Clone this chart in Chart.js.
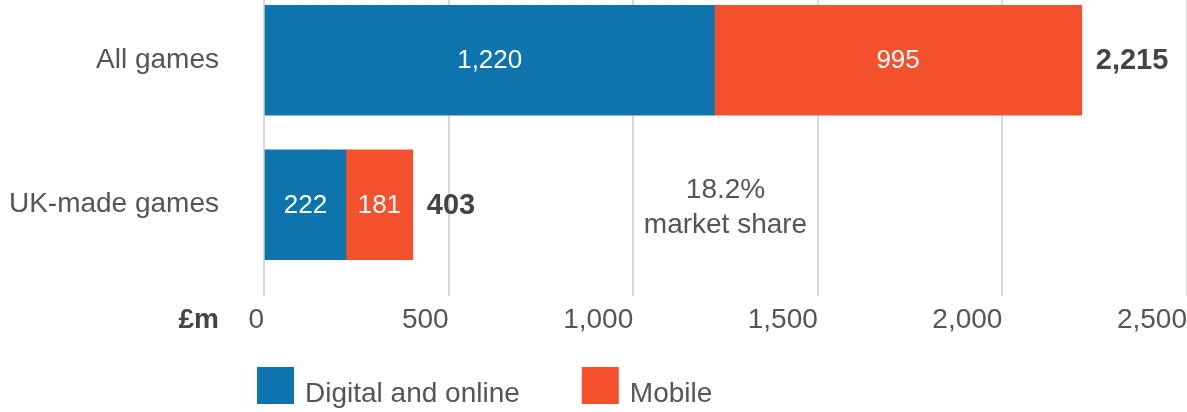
<!DOCTYPE html>
<html><head><meta charset="utf-8">
<script src="https://cdn.jsdelivr.net/npm/chart.js@4.4.1/dist/chart.umd.min.js"></script>
<style>
html,body{margin:0;padding:0;background:#fff;}
#wrap{position:relative;width:1187px;height:412px;overflow:hidden;}
#c{position:absolute;left:0;top:-12px;}
</style></head><body>
<div id="wrap"><canvas id="c" width="1187" height="424"></canvas></div>
<script>
// ---- data ----
const categories = ['All games', 'UK-made games'];
const seriesNames = ['Digital and online', 'Mobile'];
const digitalOnline = [1220, 222];
const mobile = [995, 181];
const totals = [2215, 403];
const xTickValues = [0, 500, 1000, 1500, 2000, 2500];
const unitLabel = '£m';
const shareNote = ['18.2%', 'market share'];
const shareNoteValue = 1250;          // x position of the note in £m units
const shareNoteCategory = 'UK-made games';

// ---- styles ----
const FONT = "'Liberation Sans', Arial, sans-serif";
const BLUE = '#0e74ae';
const ORANGE = '#f4512c';
const TEXT = '#555555';
const BOLD = '#444444';
const GRID = '#d9d9d9';

const fmt = v => Number(v).toLocaleString('en-US');

const labelPlugin = {
  id: 'customLabels',
  afterDatasetsDraw(chart) {
    const ctx = chart.ctx;
    const xs = chart.scales.x, ys = chart.scales.y;
    ctx.save();
    ctx.textBaseline = 'middle';
    chart.data.datasets.forEach((ds, di) => {
      const meta = chart.getDatasetMeta(di);
      meta.data.forEach((el, i) => {
        ctx.font = `26px ${FONT}`;
        ctx.fillStyle = '#ffffff';
        ctx.textAlign = 'center';
        ctx.fillText(fmt(ds.data[i]), (el.x + el.base) / 2, el.y + 1);
      });
    });
    const lastMeta = chart.getDatasetMeta(chart.data.datasets.length - 1);
    lastMeta.data.forEach((el, i) => {
      ctx.font = `bold 29px ${FONT}`;
      ctx.fillStyle = BOLD;
      ctx.textAlign = 'left';
      ctx.fillText(fmt(totals[i]), el.x + 14, el.y + 1);
    });
    const ax = xs.getPixelForValue(shareNoteValue);
    const ay = ys.getPixelForValue(categories.indexOf(shareNoteCategory));
    ctx.font = `28px ${FONT}`;
    ctx.fillStyle = TEXT;
    ctx.textAlign = 'center';
    ctx.fillText(shareNote[0], ax, ay - 14.5);
    ctx.fillText(shareNote[1], ax, ay + 20.5);
    const tickOpts = xs.options;
    const labelMid = xs.top + tickOpts.grid.tickLength + tickOpts.ticks.padding + 28 * 1.2 / 2;
    ctx.font = `bold 28px ${FONT}`;
    ctx.fillStyle = BOLD;
    ctx.textAlign = 'right';
    ctx.fillText(unitLabel, ys.right - 45, labelMid);
    let lx = 257;
    const boxTop = 379, box = 37, textMid = 406;
    chart.data.datasets.forEach(ds => {
      ctx.fillStyle = ds.backgroundColor;
      ctx.fillRect(lx, boxTop, box, box);
      ctx.font = `28px ${FONT}`;
      ctx.fillStyle = TEXT;
      ctx.textAlign = 'left';
      const tx = lx + box + 11;
      ctx.fillText(ds.label, tx, textMid);
      lx = tx + ctx.measureText(ds.label).width + 62;
    });
    ctx.restore();
  }
};

new Chart(document.getElementById('c'), {
  type: 'bar',
  data: {
    labels: categories,
    datasets: [
      { label: seriesNames[0], data: digitalOnline, backgroundColor: BLUE, barThickness: 110 },
      { label: seriesNames[1], data: mobile, backgroundColor: ORANGE, barThickness: 110 }
    ]
  },
  options: {
    indexAxis: 'y',
    responsive: false,
    animation: false,
    events: [],
    layout: { padding: 0 },
    plugins: { legend: { display: false }, tooltip: { enabled: false } },
    scales: {
      x: {
        type: 'linear',
        stacked: true,
        min: xTickValues[0],
        max: xTickValues[xTickValues.length - 1],
        afterBuildTicks: s => { s.ticks = xTickValues.map(v => ({ value: v })); },
        afterFit: s => { s.height = 135; s.paddingRight = 0; s.paddingLeft = 0; },
        border: { display: false },
        grid: { color: GRID, lineWidth: 2, drawTicks: true, tickLength: 19, tickColor: GRID, tickWidth: 2 },
        ticks: {
          align: 'end',
          padding: 7,
          color: TEXT,
          font: { family: FONT, size: 28 },
          callback: v => fmt(v)
        }
      },
      y: {
        type: 'category',
        stacked: true,
        offset: true,
        afterFit: s => { s.width = 264; s.paddingTop = 0; s.paddingBottom = 0; },
        border: { display: false },
        grid: { display: false, drawTicks: false },
        ticks: {
          padding: 45,
          color: TEXT,
          font: { family: FONT, size: 28 }
        }
      }
    }
  },
  plugins: [labelPlugin]
});
</script>
</body></html>
